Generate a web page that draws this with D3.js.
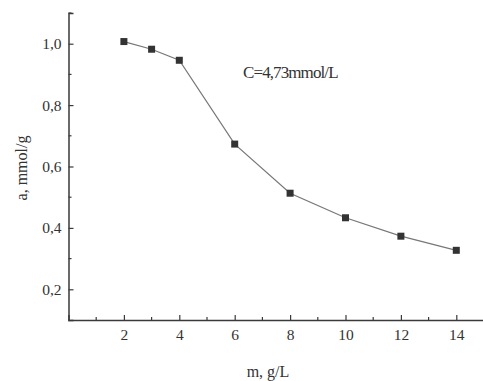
<!DOCTYPE html>
<html><head><meta charset="utf-8">
<script src="https://cdn.jsdelivr.net/npm/d3@7"></script>
<style>body{margin:0;background:#fff}svg{display:block}</style>
</head><body>
<script>
const xValues = [2, 3, 4, 6, 8, 10, 12, 14];
const yValues = [1.007, 0.982, 0.946, 0.673, 0.513, 0.433, 0.373, 0.327];
const xTicks = [2, 4, 6, 8, 10, 12, 14];
const xMinor = [1, 3, 5, 7, 9, 11, 13, 15];
const yTicks = [0.2, 0.4, 0.6, 0.8, 1.0];
const yMinor = [0.3, 0.5, 0.7, 0.9, 1.1];
const annotation = "C=4,73mmol/L";
const xTitle = "m, g/L";
const yTitle = "a, mmol/g";

const W = 483, H = 381;
const svg = d3.select("body").append("svg").attr("width", W).attr("height", H);
const x = d3.scaleLinear().domain([0, 15]).range([68.5, 484]);
const y = d3.scaleLinear().domain([0.1, 1.1]).range([320, 13]);
const fmt = d => d3.format(".1f")(d).replace(".", ",");
const axisColor = "#3a3a3a";
const font = "Liberation Serif, Times New Roman, serif";

// x axis
const gx = svg.append("g").attr("transform", `translate(0,${y(0.1)})`)
  .call(d3.axisBottom(x).tickValues(xTicks).tickSize(-5).tickPadding(9).tickFormat(d3.format("d")));
gx.select(".domain").attr("stroke", axisColor).attr("stroke-width", 1.5);
gx.selectAll(".tick line").attr("stroke", axisColor).attr("stroke-width", 1.2);
gx.selectAll(".tick text").attr("font-family", font).attr("font-size", 15.5).attr("fill", "#333");
gx.append("g").selectAll("line").data(xMinor).join("line")
  .attr("x1", d => x(d)).attr("x2", d => x(d)).attr("y1", 0).attr("y2", -3)
  .attr("stroke", axisColor).attr("stroke-width", 1.2);

// y axis
const gy = svg.append("g").attr("transform", `translate(${x(0)},0)`)
  .call(d3.axisLeft(y).tickValues(yTicks).tickSize(-5).tickPadding(7).tickFormat(fmt));
gy.select(".domain").attr("stroke", axisColor).attr("stroke-width", 1.5);
gy.selectAll(".tick line").attr("stroke", axisColor).attr("stroke-width", 1.2);
gy.selectAll(".tick text").attr("font-family", font).attr("font-size", 15.5).attr("fill", "#333");
gy.append("g").selectAll("line").data(yMinor).join("line")
  .attr("y1", d => y(d)).attr("y2", d => y(d)).attr("x1", 0).attr("x2", 3)
  .attr("stroke", axisColor).attr("stroke-width", 1.2);

// line
const pts = xValues.map((v, i) => [v, yValues[i]]);
svg.append("path").datum(pts)
  .attr("d", d3.line().x(d => x(d[0])).y(d => y(d[1])))
  .attr("fill", "none").attr("stroke", "#777").attr("stroke-width", 1.2);
svg.append("g").selectAll("rect").data(pts).join("rect")
  .attr("x", d => x(d[0]) - 3.5).attr("y", d => y(d[1]) - 3.5)
  .attr("width", 7).attr("height", 7).attr("fill", "#333");

// annotation
svg.append("text").attr("x", 243).attr("y", 78).attr("font-family", font)
  .attr("font-size", 17).attr("letter-spacing", -0.9).attr("fill", "#333").text(annotation);

// titles
svg.append("text").attr("x", 268).attr("y", 377).attr("text-anchor", "middle")
  .attr("font-family", font).attr("font-size", 16).attr("fill", "#333").text(xTitle);
svg.append("text").attr("transform", `translate(27,168) rotate(-90)`).attr("text-anchor", "middle")
  .attr("font-family", font).attr("font-size", 16).attr("fill", "#333").text(yTitle);
</script>
</body></html>
